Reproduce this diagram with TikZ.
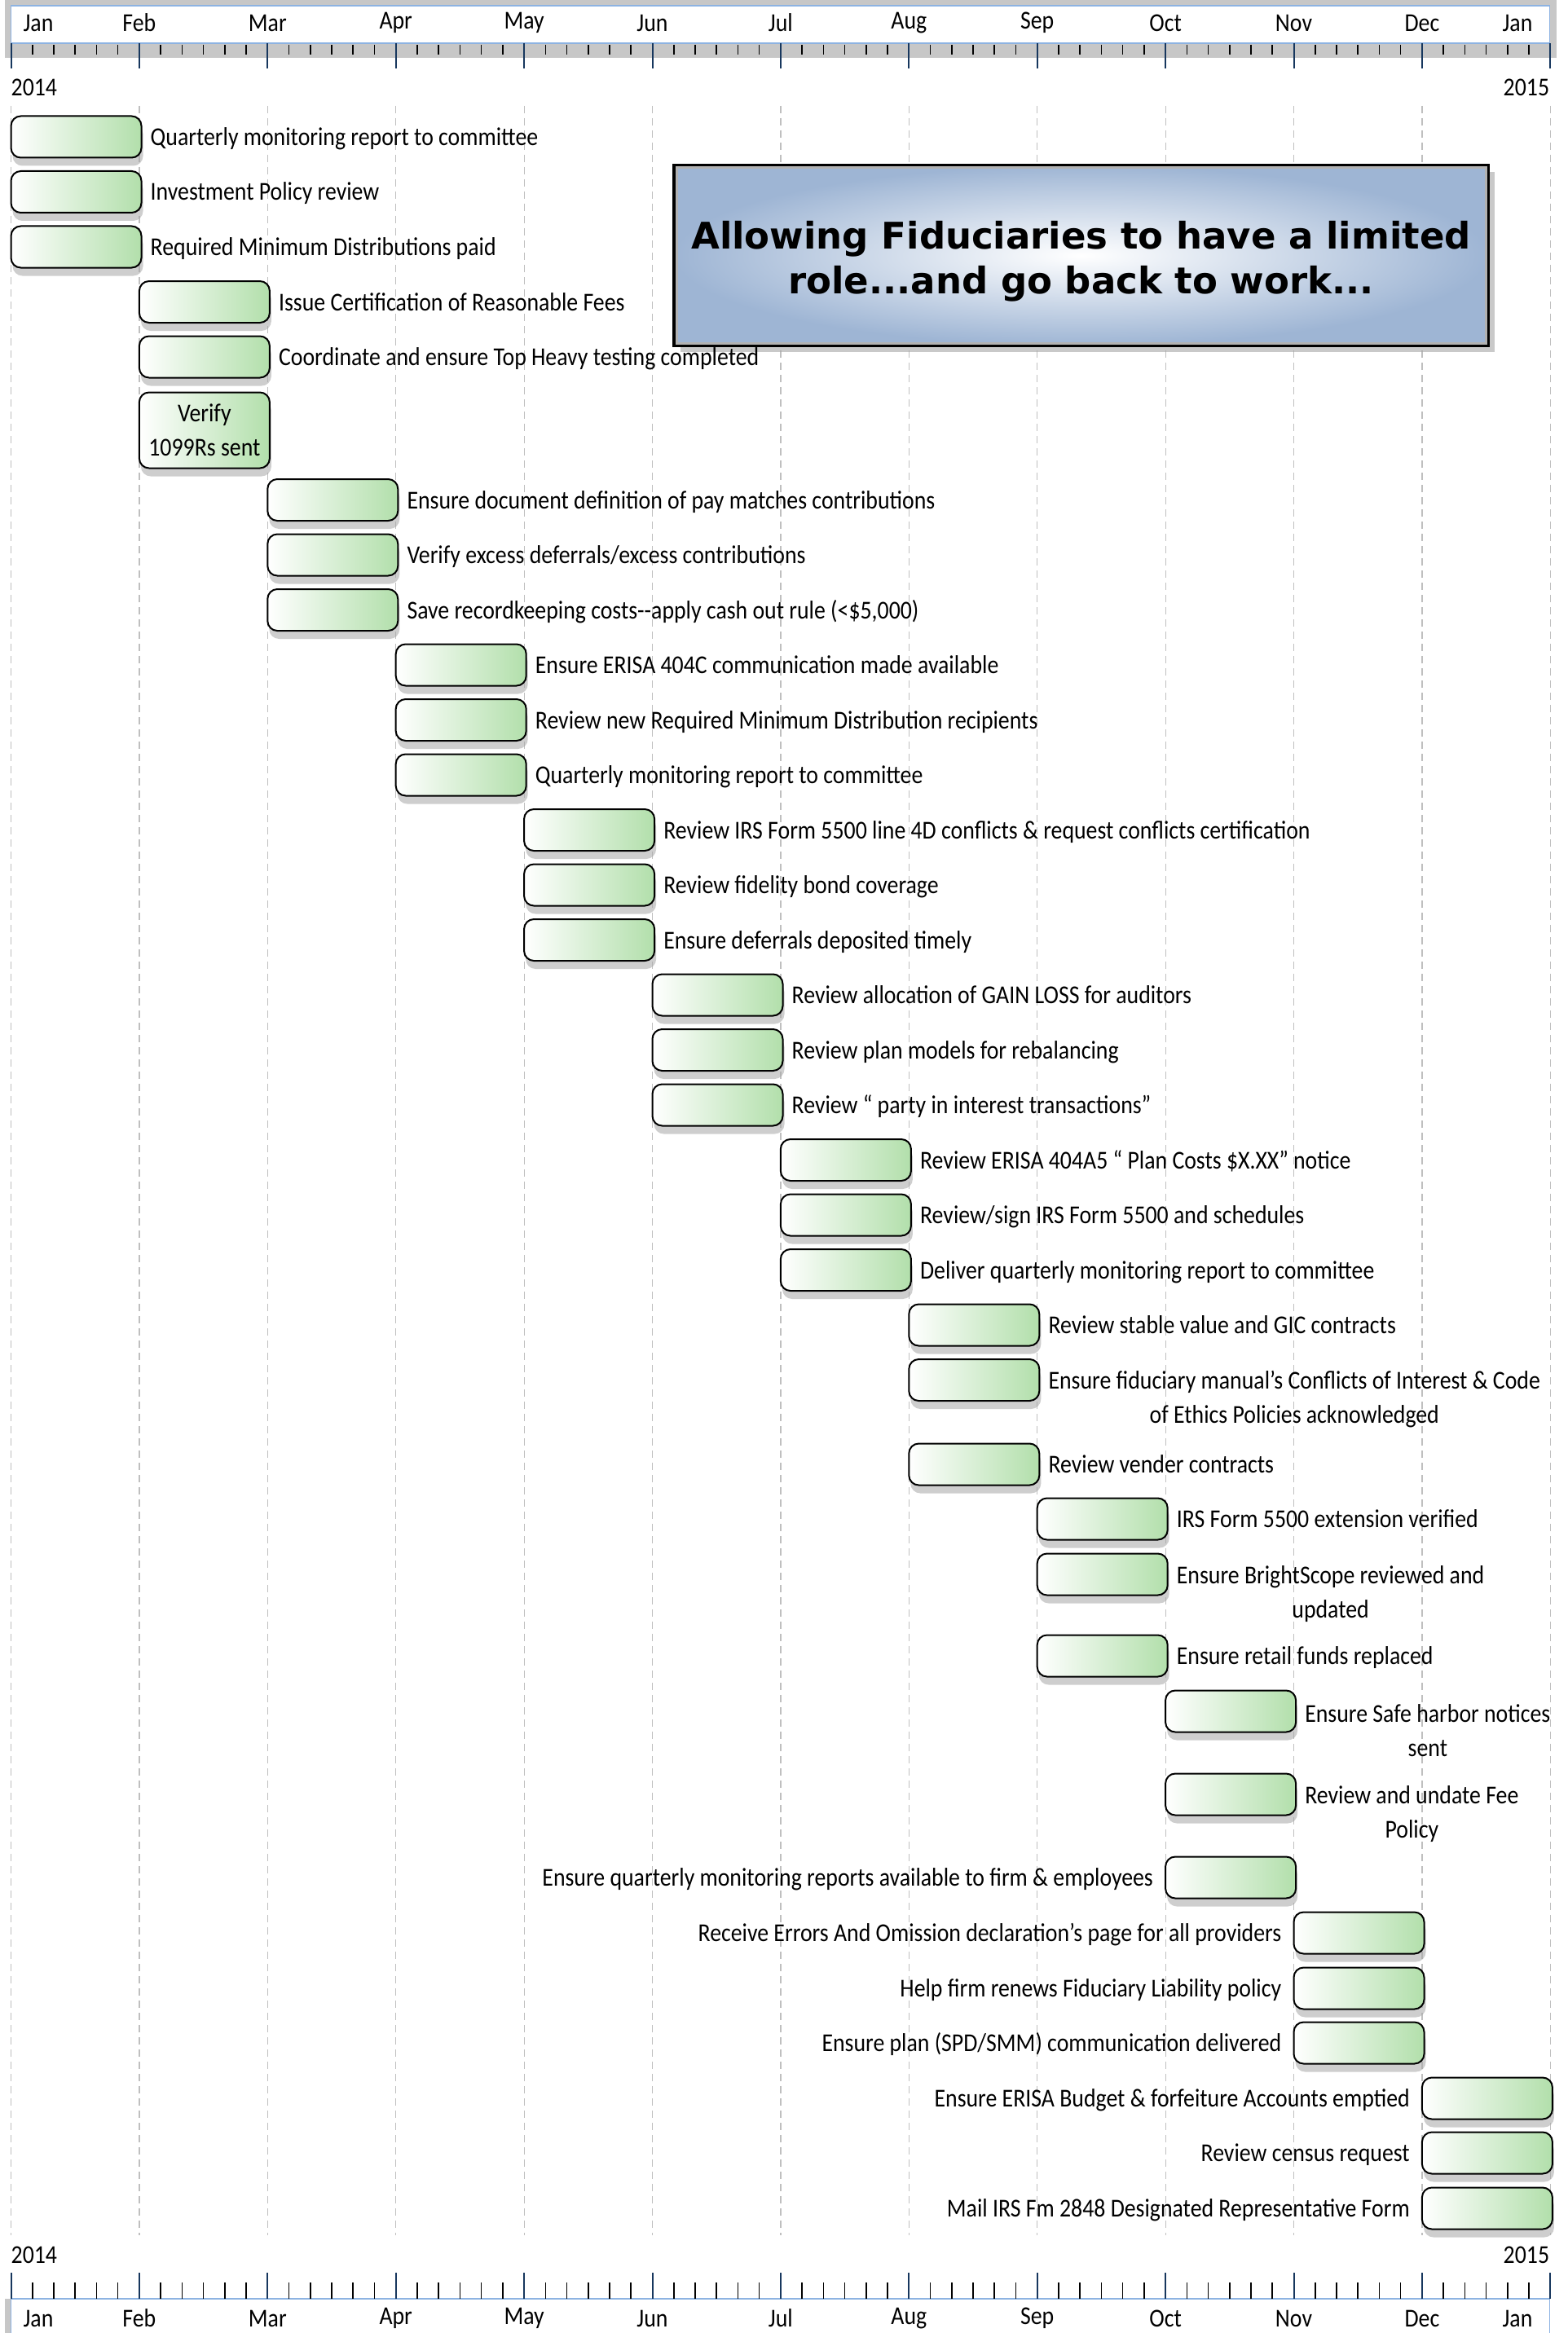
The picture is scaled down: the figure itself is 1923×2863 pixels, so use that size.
\documentclass[tikz,border=0pt]{standalone}
\usepackage{fontspec}
\setmainfont{Carlito}[FakeStretch=0.88]
\newfontfamily\headfont{DejaVu Sans}
\usepackage{tikz}
\usetikzlibrary{positioning,shadows}

\definecolor{barGreen}{RGB}{178,223,171}
\definecolor{boxBlue}{RGB}{158,181,212}
\definecolor{rulerBlue}{RGB}{141,179,226}
\definecolor{tickNavy}{RGB}{23,55,94}

\begin{document}
\begin{tikzpicture}[x=1pt,y=-1pt,node distance=10pt,
  font=\fontsize{31.6}{42}\selectfont,
  task/.style={draw,line width=2pt,rounded corners=12pt,minimum width=160pt,minimum height=51pt,inner sep=0pt,align=center,
    left color=white,right color=barGreen,drop shadow={shadow xshift=2pt,shadow yshift=-10pt,fill=black!35,opacity=0.55}},
  tasktext/.style={inner sep=0pt,text height=25pt,text depth=4pt},
  wrapnote/.style={inner sep=0pt,align=center,yshift=-24pt},
  monthline/.style={draw=black!25,line width=1.2pt,dash pattern=on 9pt off 6pt},
  majortick/.style={draw=tickNavy,line width=2pt},
  minortick/.style={draw=black,line width=1.6pt},
  titlebox/.style={draw=black,line width=4pt,minimum width=999pt,minimum height=221pt,align=center,
    inner color=white,outer color=boxBlue,font=\headfont\bfseries\fontsize{45}{55}\selectfont,
    drop shadow={shadow xshift=8pt,shadow yshift=-8pt,fill=black!35,opacity=0.6}}]

  \fill[white] (0,0) rectangle (1923,2863);
  \useasboundingbox (0,0) rectangle (1923,2863);

  \fill[black!22] (6,0) rectangle (1910,71);
  \draw[rulerBlue,line width=1.5pt,fill=white] (13.5,7) rectangle (1901.3,53);
  \fill[black!22] (6,2821) rectangle (13.5,2863);
  \draw[rulerBlue,line width=1.5pt,fill=white] (13.5,2821) rectangle (1901.3,2880);

  \foreach \m in {0,...,12} {
    \draw[majortick] ({13.5+157.4*\m},53) -- ++(0,31);
    \draw[majortick] ({13.5+157.4*\m},2821) -- ++(0,-32);
    \draw[monthline] ({13.5+157.4*\m},130) -- ({13.5+157.4*\m},2743);
  }
  \foreach \m in {0,...,11} \foreach \k in {1,...,5} {
    \draw[minortick] ({13.5+157.4*\m+26.233*\k},55) -- ++(0,12);
    \draw[minortick] ({13.5+157.4*\m+26.233*\k},2821) -- ++(0,-20);
  }

  \node (top0) at (47,28) {Jan};
  \node (bot0) at (47,2845) {Jan};
  \foreach \m/\name in {1/Feb,2/Mar,3/Apr,4/May,5/Jun,6/Jul,7/Aug,8/Sep,9/Oct,10/Nov,11/Dec} {
    \node (top\m) at ({13.5+157.4*\m},28) {\name};
    \node (bot\m) at ({13.5+157.4*\m},2845) {\name};
  }
  \node (top12) at (1862,28) {Jan};
  \node (bot12) at (1862,2845) {Jan};

  \node[anchor=west,inner sep=0pt] (yeartopa) at (13.5,107) {2014};
  \node[anchor=east,inner sep=0pt] (yeartopb) at (1901.3,107) {2015};
  \node[anchor=west,inner sep=0pt] (yearbota) at (13.5,2767) {2014};
  \node[anchor=east,inner sep=0pt] (yearbotb) at (1901.3,2767) {2015};

  \node[titlebox] (title) at (1326.5,313.5) {\rule{0pt}{48pt}Allowing Fiduciaries to have a limited\\role...and go back to work...};
  \draw[black!30,line width=3pt] ([shift={(5pt,-5pt)}]title.north west) rectangle ([shift={(-5pt,5pt)}]title.south east);

  \node[task] (b1) at (93.5,168) {};
  \node[tasktext,right=of b1] (t1) {Quarterly monitoring report to committee};
  \node[task] (b2) at (93.5,235.5) {};
  \node[tasktext,right=of b2] (t2) {Investment Policy review};
  \node[task] (b3) at (93.5,303) {};
  \node[tasktext,right=of b3] (t3) {Required Minimum Distributions paid};

  \node[task] (b4) at (250.9,370.5) {};
  \node[tasktext,right=of b4] (t4) {Issue Certification of Reasonable Fees};
  \node[task] (b5) at (250.9,438) {};
  \node[tasktext,right=of b5] (t5) {Coordinate and ensure Top Heavy testing completed};
  \node[task,minimum height=93pt] (b6) at (250.9,528) {Verify\\1099Rs sent};

  \node[task] (b7) at (408.3,613.5) {};
  \node[tasktext,right=of b7] (t7) {Ensure document definition of pay matches contributions};
  \node[task] (b8) at (408.3,681) {};
  \node[tasktext,right=of b8] (t8) {Verify excess deferrals/excess contributions};
  \node[task] (b9) at (408.3,748.5) {};
  \node[tasktext,right=of b9] (t9) {Save recordkeeping costs-{}-apply cash out rule (<\$5,000)};

  \node[task] (b10) at (565.7,816) {};
  \node[tasktext,right=of b10] (t10) {Ensure ERISA 404C communication made available};
  \node[task] (b11) at (565.7,883.5) {};
  \node[tasktext,right=of b11] (t11) {Review new Required Minimum Distribution recipients};
  \node[task] (b12) at (565.7,951) {};
  \node[tasktext,right=of b12] (t12) {Quarterly monitoring report to committee};

  \node[task] (b13) at (723.1,1018.5) {};
  \node[tasktext,right=of b13] (t13) {Review IRS Form 5500 line 4D conflicts \& request conflicts certification};
  \node[task] (b14) at (723.1,1086) {};
  \node[tasktext,right=of b14] (t14) {Review fidelity bond coverage};
  \node[task] (b15) at (723.1,1153.5) {};
  \node[tasktext,right=of b15] (t15) {Ensure deferrals deposited timely};

  \node[task] (b16) at (880.5,1221) {};
  \node[tasktext,right=of b16] (t16) {Review allocation of GAIN LOSS for auditors};
  \node[task] (b17) at (880.5,1288.5) {};
  \node[tasktext,right=of b17] (t17) {Review plan models for rebalancing};
  \node[task] (b18) at (880.5,1356) {};
  \node[tasktext,right=of b18] (t18) {Review “ party in interest transactions”};

  \node[task] (b19) at (1037.9,1423.5) {};
  \node[tasktext,right=of b19] (t19) {Review ERISA 404A5 “ Plan Costs \$X.XX” notice};
  \node[task] (b20) at (1037.9,1491) {};
  \node[tasktext,right=of b20] (t20) {Review/sign IRS Form 5500 and schedules};
  \node[task] (b21) at (1037.9,1558.5) {};
  \node[tasktext,right=of b21] (t21) {Deliver quarterly monitoring report to committee};

  \node[task] (b22) at (1195.3,1626) {};
  \node[tasktext,right=of b22] (t22) {Review stable value and GIC contracts};
  \node[task] (b23) at (1195.3,1693.5) {};
  \node[wrapnote,right=of b23] (t23) {Ensure fiduciary manual’s Conflicts of Interest \& Code\\of Ethics Policies acknowledged};
  \node[task] (b24) at (1195.3,1797) {};
  \node[tasktext,right=of b24] (t24) {Review vender contracts};

  \node[task] (b25) at (1352.7,1864) {};
  \node[tasktext,right=of b25] (t25) {IRS Form 5500 extension verified};
  \node[task] (b26) at (1352.7,1932) {};
  \node[wrapnote,right=of b26] (t26) {Ensure BrightScope reviewed and\\updated};
  \node[task] (b27) at (1352.7,2032) {};
  \node[tasktext,right=of b27] (t27) {Ensure retail funds replaced};

  \node[task] (b28) at (1510.1,2100) {};
  \node[wrapnote,right=of b28] (t28) {Ensure Safe harbor notices\\sent};
  \node[task] (b29) at (1510.1,2202) {};
  \node[wrapnote,right=of b29] (t29) {Review and undate Fee\\Policy};
  \node[task] (b30) at (1510.1,2304) {};
  \node[tasktext,left=14pt of b30] (t30) {Ensure quarterly monitoring reports available to firm \& employees};

  \node[task] (b31) at (1667.5,2372) {};
  \node[tasktext,left=14pt of b31] (t31) {Receive Errors And Omission declaration's page for all providers};
  \node[task] (b32) at (1667.5,2440) {};
  \node[tasktext,left=14pt of b32] (t32) {Help firm renews Fiduciary Liability policy};
  \node[task] (b33) at (1667.5,2507) {};
  \node[tasktext,left=14pt of b33] (t33) {Ensure plan (SPD/SMM) communication delivered};

  \node[task] (b34) at (1824.9,2575) {};
  \node[tasktext,left=14pt of b34] (t34) {Ensure ERISA Budget \& forfeiture Accounts emptied};
  \node[task] (b35) at (1824.9,2642) {};
  \node[tasktext,left=14pt of b35] (t35) {Review census request};
  \node[task] (b36) at (1824.9,2710) {};
  \node[tasktext,left=14pt of b36] (t36) {Mail IRS Fm 2848 Designated Representative Form};
\end{tikzpicture}
\end{document}
